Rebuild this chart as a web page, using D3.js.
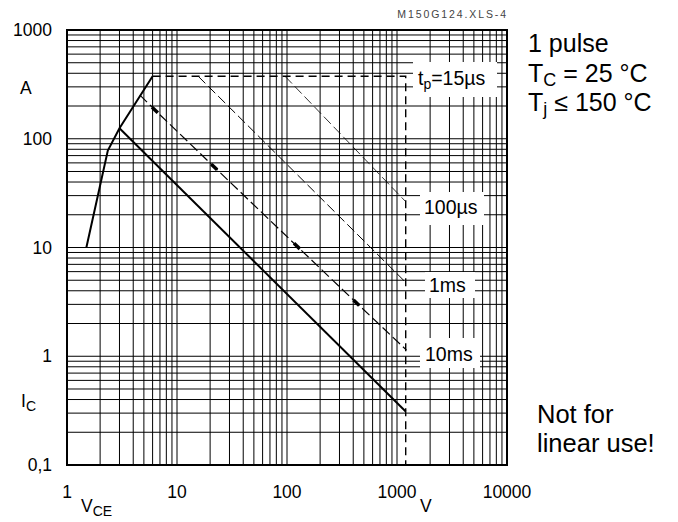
<!DOCTYPE html>
<html>
<head>
<meta charset="utf-8">
<script src="https://d3js.org/d3.v7.min.js"></script>
<style>
  body { margin: 0; background: #fff; }
  text { font-family: "Liberation Sans", Arial, sans-serif; fill: #000; }
</style>
</head>
<body>
<div id="chart"></div>
<script>
// values: V_CE in volts, I_C in amperes
var xTicks = [1, 10, 100, 1000, 10000];
var xTickLabels = ["1", "10", "100", "1000", "10000"];
var yTicks = [0.1, 1, 10, 100, 1000];
var yTickLabels = ["0,1", "1", "10", "100", "1000"];

var limitCurve = [[1.5, 10], [2.35, 78], [3, 125], [6, 375]];
var dcLine = [[3, 125], [1200, 0.31]];
var line15us = [[6, 375], [1200, 375], [1200, 0.1]];
var line100us = [[96, 375], [1200, 26.4]];
var line1ms = [[15.6, 375], [1220, 4.7]];
var line10ms = [[4.6, 252], [6.3, 184], [21.8, 55], [123, 10.3], [427, 3.1], [1220, 1.14]];
var markers10ms = [[6.3, 184], [21.8, 55], [123, 10.3], [427, 3.1]];

var W = 678, H = 522;
var plotL = 67, plotR = 507, plotT = 30, plotB = 465;

var svg = d3.select("#chart").append("svg")
  .attr("width", W).attr("height", H);

var x = d3.scaleLog().domain([1, 10000]).range([plotL, plotR]);
var y = d3.scaleLog().domain([0.1, 1000]).range([plotB, plotT]);

// grid, every 1..9 in each decade
var xGrid = [], yGrid = [];
for (var k = 0; k < 4; k++) for (var i = 1; i <= 9; i++) if (k > 0 || i > 1) xGrid.push(i * Math.pow(10, k));
for (var k = -1; k < 3; k++) for (var i = 1; i <= 9; i++) if (k > -1 || i > 1) yGrid.push(i * Math.pow(10, k));

svg.append("g").selectAll("line").data(xGrid).enter().append("line")
  .attr("x1", function (d) { return x(d) }).attr("x2", function (d) { return x(d) })
  .attr("y1", plotT).attr("y2", plotB)
  .attr("stroke", "#000").attr("stroke-width", 1);
svg.append("g").selectAll("line").data(yGrid).enter().append("line")
  .attr("y1", function (d) { return y(d) }).attr("y2", function (d) { return y(d) })
  .attr("x1", plotL).attr("x2", plotR)
  .attr("stroke", "#000").attr("stroke-width", 1);

svg.append("rect")
  .attr("x", plotL).attr("y", plotT).attr("width", plotR - plotL).attr("height", plotB - plotT)
  .attr("fill", "none").attr("stroke", "#000").attr("stroke-width", 2);

var line = d3.line()
  .x(function (d) { return x(d[0]) })
  .y(function (d) { return y(d[1]) });

function path(data, w, dash) {
  svg.append("path").attr("d", line(data))
    .attr("fill", "none").attr("stroke", "#000")
    .attr("stroke-width", w)
    .attr("stroke-dasharray", dash || null);
}

path(limitCurve, 2);
path(dcLine, 2);
path(line15us, 1.4, "8,5");
path(line100us, 0.8, "10,4");
path(line1ms, 1, "10,4");
path(line10ms, 1.2, "10,4");

// thick markers on the 10 ms line
var a = line10ms[0], b = line10ms[line10ms.length - 1];
var ang = Math.atan2(y(b[1]) - y(a[1]), x(b[0]) - x(a[0]));
svg.append("g").selectAll("line").data(markers10ms).enter().append("line")
  .attr("x1", function (d) { return x(d[0]) - 4 * Math.cos(ang) })
  .attr("y1", function (d) { return y(d[1]) - 4 * Math.sin(ang) })
  .attr("x2", function (d) { return x(d[0]) + 4 * Math.cos(ang) })
  .attr("y2", function (d) { return y(d[1]) + 4 * Math.sin(ang) })
  .attr("stroke", "#000").attr("stroke-width", 3.5);

// tick labels
svg.append("g").selectAll("text").data(xTicks).enter().append("text")
  .attr("x", function (d) { return x(d) }).attr("y", 498)
  .attr("text-anchor", "middle").style("font-size", "17.5px")
  .text(function (d, i) { return xTickLabels[i] });
svg.append("g").selectAll("text").data(yTicks).enter().append("text")
  .attr("x", 52).attr("y", function (d) { return y(d) + 6 })
  .attr("text-anchor", "end").style("font-size", "17.5px")
  .text(function (d, i) { return yTickLabels[i] });

// axis names
svg.append("text").attr("x", 20).attr("y", 94).style("font-size", "17.5px").text("A");
var ic = svg.append("text").attr("x", 21).attr("y", 407).style("font-size", "17.5px");
ic.append("tspan").text("I");
ic.append("tspan").attr("dy", 4).style("font-size", "14px").text("C");
var vce = svg.append("text").attr("x", 81).attr("y", 512).style("font-size", "17.5px");
vce.append("tspan").text("V");
vce.append("tspan").attr("dy", 4).style("font-size", "14px").text("CE");
svg.append("text").attr("x", 420).attr("y", 512).style("font-size", "17.5px").text("V");

// file stamp
svg.append("text").attr("x", 508).attr("y", 18).attr("text-anchor", "end")
  .style("font-size", "10.5px").style("letter-spacing", "1.9px").style("fill", "#444")
  .text("M150G124.XLS-4");

// pulse labels in white boxes
var boxes = [
  { x: 413, y: 62, w: 84, h: 35, tx: 418, ty: 85 },
  { x: 420, y: 192, w: 64, h: 33, tx: 424, ty: 214 },
  { x: 425, y: 272, w: 50, h: 26, tx: 429, ty: 292 },
  { x: 420, y: 338, w: 60, h: 30, tx: 425, ty: 361 }
];
svg.append("g").selectAll("rect").data(boxes).enter().append("rect")
  .attr("x", function (d) { return d.x }).attr("y", function (d) { return d.y })
  .attr("width", function (d) { return d.w }).attr("height", function (d) { return d.h })
  .attr("fill", "#fff");
var t0 = svg.append("text").attr("x", boxes[0].tx).attr("y", boxes[0].ty).style("font-size", "19.5px");
t0.append("tspan").text("t");
t0.append("tspan").attr("dy", 4).style("font-size", "14px").text("p");
t0.append("tspan").attr("dy", -4).text("=15µs");
svg.append("text").attr("x", boxes[1].tx).attr("y", boxes[1].ty).style("font-size", "19.5px").text("100µs");
svg.append("text").attr("x", boxes[2].tx).attr("y", boxes[2].ty).style("font-size", "19.5px").text("1ms");
svg.append("text").attr("x", boxes[3].tx).attr("y", boxes[3].ty).style("font-size", "19.5px").text("10ms");

// conditions at right
svg.append("text").attr("x", 528).attr("y", 52).style("font-size", "25px").text("1 pulse");
var tc = svg.append("text").attr("x", 528).attr("y", 82).style("font-size", "25px");
tc.append("tspan").text("T");
tc.append("tspan").attr("dy", 4).style("font-size", "18px").text("C");
tc.append("tspan").attr("dy", -4).text(" = 25 °C");
var tj = svg.append("text").attr("x", 528).attr("y", 111).style("font-size", "25px");
tj.append("tspan").text("T");
tj.append("tspan").attr("dy", 4).style("font-size", "18px").text("j");
tj.append("tspan").attr("dy", -4).text(" ≤ 150 °C");

svg.append("text").attr("x", 537).attr("y", 423).style("font-size", "25.5px").text("Not for");
svg.append("text").attr("x", 537).attr("y", 452).style("font-size", "25.5px").text("linear use!");
</script>
</body>
</html>
